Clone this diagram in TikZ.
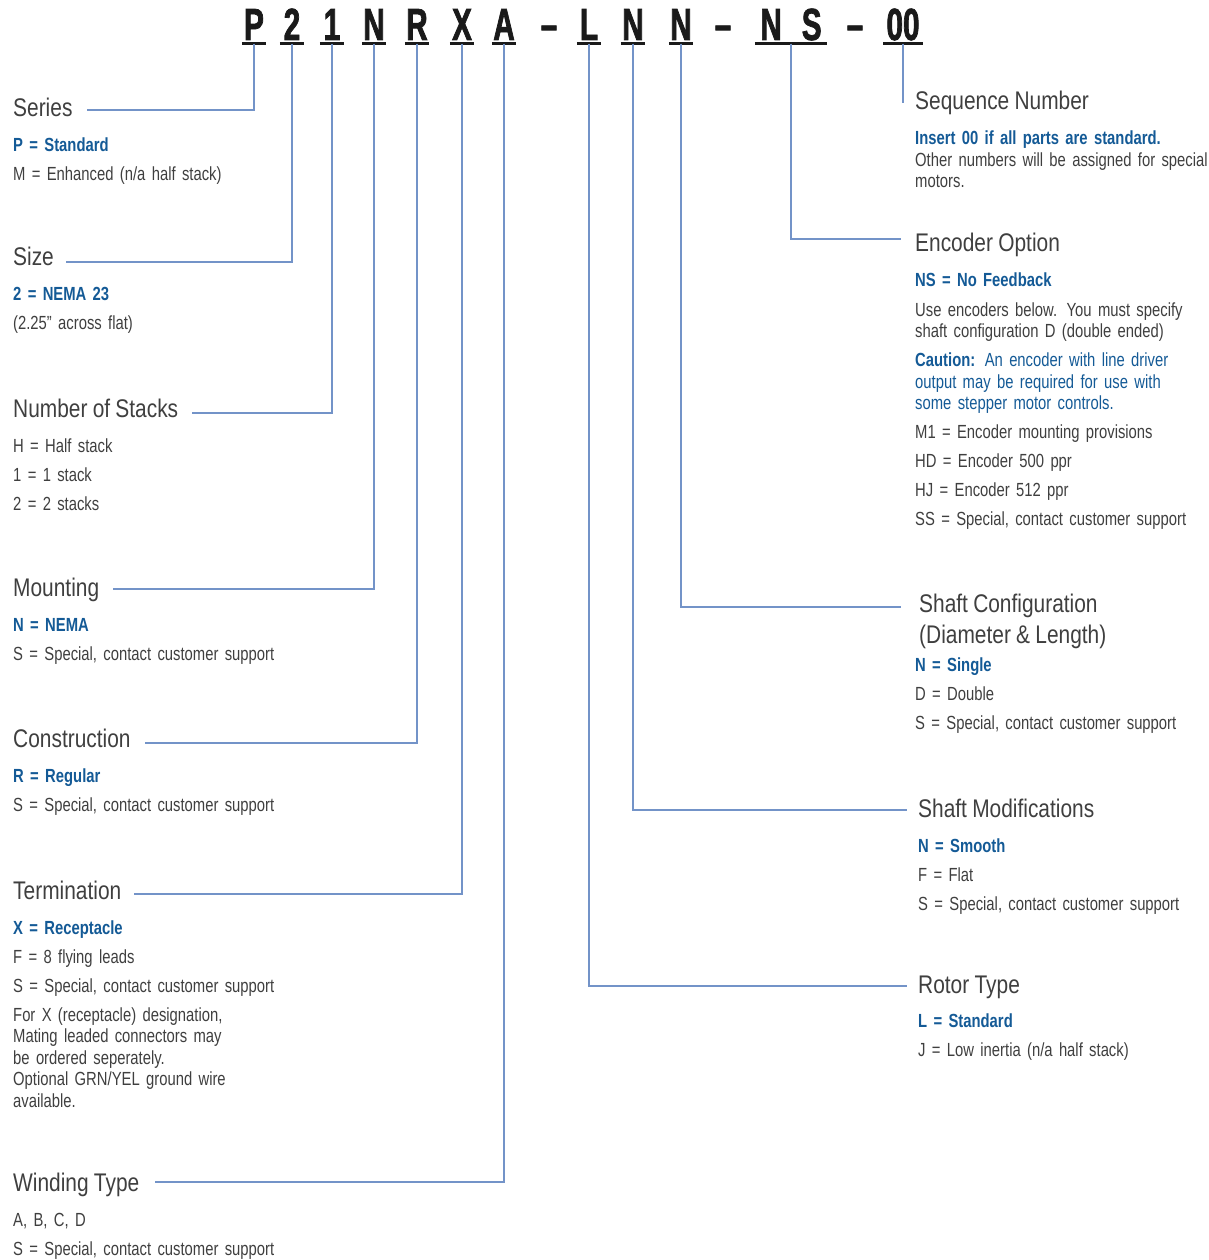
\documentclass[tikz,border=0pt]{standalone}
\usepackage{fontspec}
\setmainfont{Liberation Sans}[FakeStretch=0.82, WordSpace=0.9]
\newfontfamily\itemfont{Liberation Sans}[FakeStretch=0.78, WordSpace=0.65]
\newfontfamily\codefont{Liberation Sans}[FakeStretch=0.66, FakeBold=1.6]
\usepackage{xcolor}
\usepackage{tikz}
\usetikzlibrary{
  positioning,
  calc
}
\hyphenpenalty=10000
\definecolor{pnBlue}{HTML}{145A96}
\definecolor{pnText}{HTML}{3F3F3F}
\definecolor{pnLine}{HTML}{7393C8}
\definecolor{pnCode}{HTML}{1A1A1A}
\newcommand{\pnsel}[1]{\textcolor{pnBlue}{\bfseries #1}}
\tikzset{
  codechar/.style={
    font=\codefont\bfseries\fontsize{45}{45}\selectfont, text=pnCode,
    anchor=base, inner xsep=0pt, inner ysep=3.5pt, text depth=0pt, minimum width=24pt
  },
  codedash/.style={font=\codefont\bfseries\fontsize{45}{45}\selectfont, text=pnCode, anchor=base, inner sep=0pt},
  uline/.style={line width=3pt, pnCode},
  head/.style={
    font=\fontsize{25.5}{31}\selectfont, text=pnText, anchor=base west,
    inner sep=0pt, text height=19pt, text depth=5pt
  },
  items/.style={
    font=\itemfont\fontsize{19}{21.5}\selectfont, text=pnText, anchor=base west,
    inner sep=0pt, text width=340pt, align=left
  },
  leader/.style={line width=1.1pt, pnLine}
}

\begin{document}
\begin{tikzpicture}[x=1pt, y=-1pt]
  \useasboundingbox (0,0) rectangle (1208,1260);
  % part number
  \node[codechar] (cP) at (254,40) {P};
  \node[codechar] (c2) at (292,40) {2};
  \node[codechar] (c1) at (332,40) {1};
  \node[codechar] (cN) at (374,40) {N};
  \node[codechar] (cR) at (417,40) {R};
  \node[codechar] (cX) at (462,40) {X};
  \node[codechar] (cA) at (504,40) {A};
  \node[codedash] (d1) at (549,40) {\textendash};
  \node[codechar] (cL) at (589,40) {L};
  \node[codechar] (cM) at (633,40) {N};
  \node[codechar] (cS) at (681,40) {N};
  \node[codedash] (d2) at (723,40) {\textendash};
  \node[codechar, minimum width=72pt] (cE) at (791,40) {N\hspace{20pt}S};
  \node[codedash] (d3) at (855,40) {\textendash};
  \node[codechar, minimum width=39pt] (cQ) at (903,40) {00};
  \foreach \c in {cP,c2,c1,cN,cR,cX,cA,cL,cM,cS,cE,cQ}
    \draw[uline] (\c.south west) -- (\c.south east);

  % left column
  \node[head] (series) at (13,117) {Series};
  \node[items] (seriesI) at ([yshift=-35pt]series.base west)
    {\pnsel{P = Standard}\\[7.5pt] M = Enhanced (n/a half stack)};
  \node[head] (size) at (13,265) {Size};
  \node[items] (sizeI) at ([yshift=-35pt]size.base west)
    {\pnsel{2 = NEMA 23}\\[7.5pt] (2.25” across flat)};
  \node[head] (stacks) at (13,417) {Number of Stacks};
  \node[items] (stacksI) at ([yshift=-35pt]stacks.base west)
    {H = Half stack\\[7.5pt] 1 = 1 stack\\[7.5pt] 2 = 2 stacks};
  \node[head] (mounting) at (13,596) {Mounting};
  \node[items] (mountingI) at ([yshift=-35pt]mounting.base west)
    {\pnsel{N = NEMA}\\[7.5pt] S = Special, contact customer support};
  \node[head] (construct) at (13,747) {Construction};
  \node[items] (constructI) at ([yshift=-35pt]construct.base west)
    {\pnsel{R = Regular}\\[7.5pt] S = Special, contact customer support};
  \node[head] (termination) at (13,899) {Termination};
  \node[items] (terminationI) at ([yshift=-35pt]termination.base west)
    {\pnsel{X = Receptacle}\\[7.5pt] F = 8 flying leads\\[7.5pt] S = Special, contact customer support\\[7.5pt]
     For X (receptacle) designation,\\ Mating leaded connectors may\\ be ordered seperately.\\
     Optional GRN/YEL ground wire\\ available.};
  \node[head] (winding) at (13,1191) {Winding Type};
  \node[items] (windingI) at ([yshift=-35pt]winding.base west)
    {A, B, C, D\\[7.5pt] S = Special, contact customer support};

  % right column
  \node[head] (sequence) at (915,110) {Sequence Number};
  \node[items] (sequenceI) at ([yshift=-35pt]sequence.base west)
    {\pnsel{Insert 00 if all parts are standard.}\\ Other numbers will be assigned for special\\ motors.};
  \node[head] (encoder) at (915,251) {Encoder Option};
  \node[items] (encoderI) at ([yshift=-35pt]encoder.base west)
    {\pnsel{NS = No Feedback}\\[8.5pt] Use encoders below. You must specify\\ shaft configuration D (double ended)\\[7.5pt]
     {\color{pnBlue}\textbf{Caution:} An encoder with line driver\\ output may be required for use with\\ some stepper motor controls.}\\[7.5pt]
     M1 = Encoder mounting provisions\\[7.5pt] HD = Encoder 500 ppr\\[7.5pt] HJ = Encoder 512 ppr\\[7.5pt]
     SS = Special, contact customer support};
  \node[head] (shaftcfg) at (919,612) {Shaft Configuration};
  \node[head] (shaftcfgB) at ([yshift=-31pt]shaftcfg.base west) {(Diameter \& Length)};
  \node[items] (shaftcfgI) at ([xshift=-4pt, yshift=-28pt]shaftcfgB.base west)
    {\pnsel{N = Single}\\[7.5pt] D = Double\\[7.5pt] S = Special, contact customer support};
  \node[head] (shaftmod) at (918,817) {Shaft Modifications};
  \node[items] (shaftmodI) at ([yshift=-35pt]shaftmod.base west)
    {\pnsel{N = Smooth}\\[7.5pt] F = Flat\\[7.5pt] S = Special, contact customer support};
  \node[head] (rotor) at (918,993) {Rotor Type};
  \node[items] (rotorI) at ([yshift=-34pt]rotor.base west)
    {\pnsel{L = Standard}\\[7.5pt] J = Low inertia (n/a half stack)};

  % leaders
  \draw[leader] (cP.south) |- ([xshift=14pt]series.east);
  \draw[leader] (c2.south) |- ([xshift=12pt, yshift=-4pt]size.east);
  \draw[leader] (c1.south) |- ([xshift=14pt, yshift=-3pt]stacks.east);
  \draw[leader] (cN.south) |- ([xshift=14pt]mounting.east);
  \draw[leader] (cR.south) |- ([xshift=14pt, yshift=-3pt]construct.east);
  \draw[leader] (cX.south) |- ([xshift=13pt, yshift=-2pt]termination.east);
  \draw[leader] (cA.south) |- ([xshift=15pt, yshift=2pt]winding.east);
  \draw[leader] (cL.south) |- ([xshift=-11pt]rotor.west);
  \draw[leader] (cM.south) |- ([xshift=-11pt]shaftmod.west);
  \draw[leader] (cS.south) |- ([xshift=-18pt, yshift=-2pt]shaftcfg.west);
  \draw[leader] (cE.south) |- ([xshift=-14pt, yshift=5pt]encoder.west);
  \draw[leader] (cQ.south) -- (cQ.south |- sequence.west);
\end{tikzpicture}
\end{document}
